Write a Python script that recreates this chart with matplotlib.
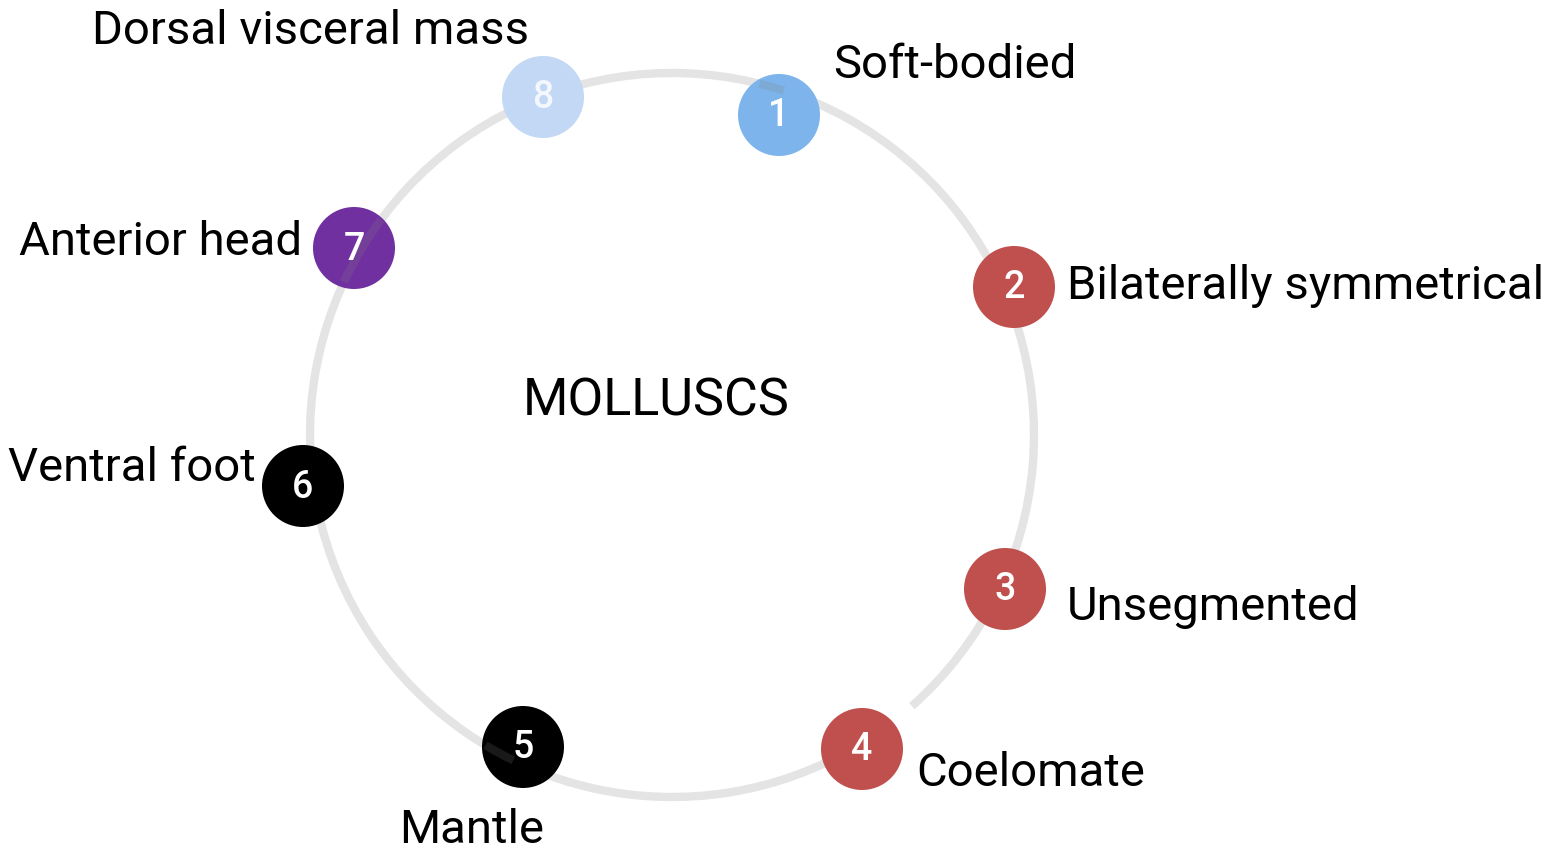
import matplotlib.pyplot as plt
from matplotlib.patches import Arc, Circle

# figure is laid out in pixel units (1563 x 851, y downwards)
labels = ['Soft-bodied', 'Bilaterally symmetrical', 'Unsegmented', 'Coelomate',
          'Mantle', 'Ventral foot', 'Anterior head', 'Dorsal visceral mass']
numbers = ['1', '2', '3', '4', '5', '6', '7', '8']
node_x = [779, 1014, 1005, 862, 523, 303, 354, 543]
node_y = [115, 287, 589, 749, 747, 486, 248, 97]
node_colors = ['#7db4eb', '#c0504d', '#c0504d', '#c0504d',
               '#000000', '#000000', '#7030a0', '#c2d8f4']
number_colors = ['white'] * 8
number_colors[7] = '#f4f8fe'

label_x = [833, 1067, 1067, 916, 472, 256, 302, 311]
label_y = [65, 286, 607, 773, 830, 468, 242, 31]
label_ha = ['left', 'left', 'left', 'left', 'center', 'right', 'right', 'center']

ring_center = (672, 435)
ring_radius = 362
ring_gap = (48.5, 59)  # degrees, screen orientation
# bits of the ring that show through some of the nodes
overlay_arcs = [(284, 288), (116, 121), (205, 216.5)]

W, H = 1563, 851
fig = plt.figure(figsize=(W / 100, H / 100), dpi=100)
ax = fig.add_axes([0, 0, 1, 1])
ax.set_xlim(0, W)
ax.set_ylim(H, 0)
ax.set_aspect('equal')
ax.axis('off')

plt.rcParams['font.family'] = ['Roboto', 'DejaVu Sans']

ring = Arc(ring_center, 2 * ring_radius, 2 * ring_radius,
           theta1=ring_gap[1], theta2=ring_gap[0] + 360,
           color='#e4e4e4', lw=6, zorder=1)
ax.add_patch(ring)

for x, y, c, n, nc in zip(node_x, node_y, node_colors, numbers, number_colors):
    ax.add_patch(Circle((x, y), 41, color=c, zorder=2, lw=0))
    ax.text(x, y + 1, n, color=nc, fontsize=27, fontweight='medium',
            ha='center', va='center', zorder=4)

for t1, t2 in overlay_arcs:
    ax.add_patch(Arc(ring_center, 2 * ring_radius, 2 * ring_radius,
                     theta1=t1, theta2=t2, color='#808080', alpha=0.2,
                     lw=6, zorder=3))

for x, y, t, ha in zip(label_x, label_y, labels, label_ha):
    ax.text(x, y, t, fontsize=34, ha=ha, va='center', color='black', zorder=3)

ax.text(656, 401, 'MOLLUSCS', fontsize=37.5, ha='center', va='center', color='black')

fig.savefig('out.png', dpi=100, facecolor='white')
